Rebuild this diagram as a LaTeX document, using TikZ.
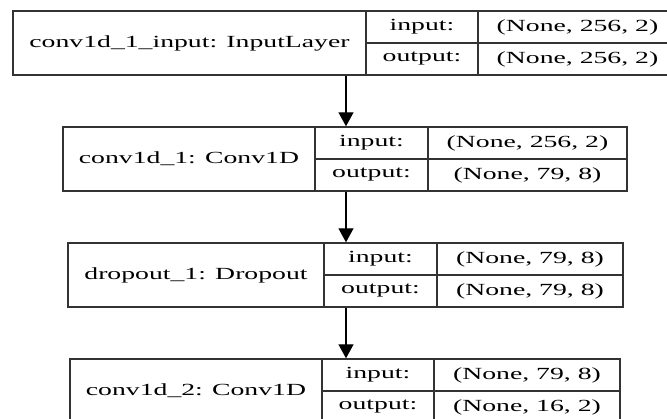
\documentclass[tikz,border=0pt]{standalone}
\usepackage{fontspec}
\setmainfont{Liberation Serif}[FakeStretch=1.63]
\usetikzlibrary{arrows.meta}

\begin{document}
\begin{tikzpicture}[
    x=1pt, y=-1pt,
    every node/.style={font=\fontsize{17}{19}\selectfont},
    celda/.style={draw=black!80, line width=1.4pt, inner sep=0pt, minimum height=32pt},
    nombre/.style={celda, minimum height=64pt},
    etiqueta/.style={celda, minimum width=113pt},
    valor/.style={celda},
    flecha/.style={-{Triangle[length=14pt, width=15pt]}, line width=1.4pt}
  ]
    \clip (0,0) rectangle (667,419);
    \coordinate (eje) at (346,0);

    \node[nombre, minimum width=353pt] (entrada) at (189.5,43) {conv1d\_1\_input: InputLayer};
    \node[etiqueta] (entrada-i) at (422,27) {input:};
    \node[etiqueta] (entrada-o) at (422,59) {output:};
    \node[valor, minimum width=199pt] (entrada-vi) at (577.5,27) {(None, 256, 2)};
    \node[valor, minimum width=199pt] (entrada-vo) at (577.5,59) {(None, 256, 2)};

    \node[nombre, minimum width=252pt] (conv1) at (189,159) {conv1d\_1: Conv1D};
    \node[etiqueta] (conv1-i) at (371.5,143) {input:};
    \node[etiqueta] (conv1-o) at (371.5,175) {output:};
    \node[valor, minimum width=199pt] (conv1-vi) at (527.5,143) {(None, 256, 2)};
    \node[valor, minimum width=199pt] (conv1-vo) at (527.5,175) {(None, 79, 8)};

    \node[nombre, minimum width=256pt] (dropout) at (196,275) {dropout\_1: Dropout};
    \node[etiqueta] (dropout-i) at (380.5,259) {input:};
    \node[etiqueta] (dropout-o) at (380.5,291) {output:};
    \node[valor, minimum width=186pt] (dropout-vi) at (530,259) {(None, 79, 8)};
    \node[valor, minimum width=186pt] (dropout-vo) at (530,291) {(None, 79, 8)};

    \node[nombre, minimum width=252pt] (conv2) at (196,391) {conv1d\_2: Conv1D};
    \node[etiqueta] (conv2-i) at (378,375) {input:};
    \node[etiqueta] (conv2-o) at (378,407) {output:};
    \node[valor, minimum width=186pt] (conv2-vi) at (527,375) {(None, 79, 8)};
    \node[valor, minimum width=186pt] (conv2-vo) at (527,407) {(None, 16, 2)};

    \draw[flecha] (entrada.south -| eje) -- (conv1-i.north -| eje);
    \draw[flecha] (conv1-o.south -| eje) -- (dropout-i.north -| eje);
    \draw[flecha] (dropout-o.south -| eje) -- (conv2-i.north -| eje);
\end{tikzpicture}
\end{document}
